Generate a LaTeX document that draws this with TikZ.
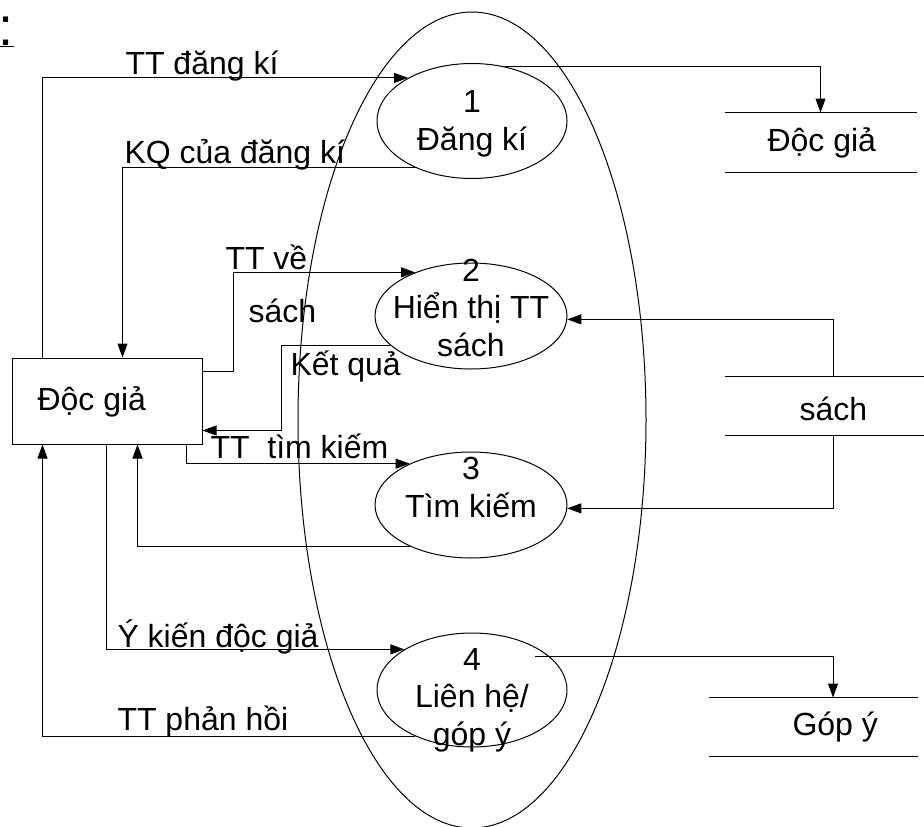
\documentclass[tikz,border=0pt]{standalone}
\usepackage{fontspec}
\setmainfont{Liberation Sans}
\usetikzlibrary{shapes.geometric,arrows.meta}
\begin{document}
\begin{tikzpicture}[x=1pt,y=-1pt,line width=1pt,
  every node/.style={font=\fontsize{32}{37.5}\selectfont},
  proc/.style={draw,ellipse,inner sep=0pt},
  ptext/.style={align=center,anchor=base,inner sep=0pt},
  lbl/.style={anchor=base west,inner sep=0pt},
  storebox/.style={inner sep=0pt},
  arr/.style={-{Triangle[length=14pt,width=10pt]}}]
\useasboundingbox (0,0) rectangle (924,827);

% title fragment
\node[anchor=base east,inner sep=0pt,font=\fontsize{54}{58}\selectfont] (title) at (15,45) {\underline{\hspace*{20pt}:\hspace*{1pt}}};

% system boundary
\node[proc,minimum width=348pt,minimum height=816pt] (sys) at (472,420) {};

% processes
\node[proc,minimum width=190pt,minimum height=115pt] (e1) at (472,121) {};
\node[ptext] (t1) at (472,150) {1\\Đăng kí};
\node[proc,minimum width=192pt,minimum height=106pt] (e2) at (471,316) {};
\node[ptext] (t2) at (471,356) {2\\Hiển thị TT\\sách};
\node[proc,minimum width=192pt,minimum height=106pt] (e3) at (471,505) {};
\node[ptext] (t3) at (471,517) {3\\Tìm kiếm};
\node[proc,minimum width=190pt,minimum height=114pt] (e4) at (472,690) {};
\node[ptext] (t4) at (472,745) {4\\Liên hệ/\\góp ý};

% external entity
\node[draw,minimum width=190pt,minimum height=86pt,inner sep=0pt] (box) at (107,401) {};
\node[lbl] (boxt) at (37,410) {Độc giả};

% data stores
\node[storebox,minimum width=191pt,minimum height=59pt] (s1) at (820.5,142.5) {};
\draw (s1.north west) -- (s1.north east) (s1.south west) -- (s1.south east);
\node[lbl] (s1t) at (767,151) {Độc giả};
\node[storebox,minimum width=219pt,minimum height=58pt] (s2) at (834.5,406) {};
\draw (s2.north west) -- (s2.north east) (s2.south west) -- (s2.south east);
\node[lbl] (s2t) at (799,420) {sách};
\node[storebox,minimum width=208pt,minimum height=58pt] (s3) at (813,727) {};
\draw (s3.north west) -- (s3.north east) (s3.south west) -- (s3.south east);
\node[lbl] (s3t) at (792,735) {Góp ý};

% flows
\draw[arr] ([xshift=31pt]box.north west) |- (e1.146);
\node[lbl] (l1) at (125,74) {TT đăng kí};
\draw[arr] (e1.59) -| (s1.north);
\draw[arr] (e1.219) -| ([xshift=111pt]box.north west);
\node[lbl] (l2) at (124,163) {KQ của đăng kí};

\draw[arr] ([yshift=-14pt]box.north east) -- ++(31,0) |- (e2.142);
\node[lbl] (l3) at (225,269) {TT về};
\node[lbl] (l3b) at (248,322) {sách};
\draw[arr] (e2.200) -- ++(-109,0) |- ([yshift=14pt]box.south east);
\node[lbl] (l4) at (290,375) {Kết quả};

\draw[arr] ([xshift=-16pt]box.south east) |- (e3.146);
\node[lbl] (l5) at (210,458) {TT\ \ tìm kiếm};
\draw[arr] (e3.214) -| ([xshift=126pt]box.south west);

\draw[arr] ([xshift=95pt]box.south west) |- (e4.149);
\node[lbl] (l6) at (117,647) {Ý kiến độc giả};
\draw[arr] (e4.219) -| ([xshift=31pt]box.south west);
\node[lbl] (l7) at (117,730) {TT phản hồi};

\draw[arr] ([shift={(63,-34)}]e4.center) -| ([xshift=20pt]s3.north);

\draw[arr] ([xshift=-1.5pt]s2.north) |- (e2.-2);
\draw[arr] ([xshift=-1.5pt]s2.south) |- (e3.-2);
\end{tikzpicture}
\end{document}
